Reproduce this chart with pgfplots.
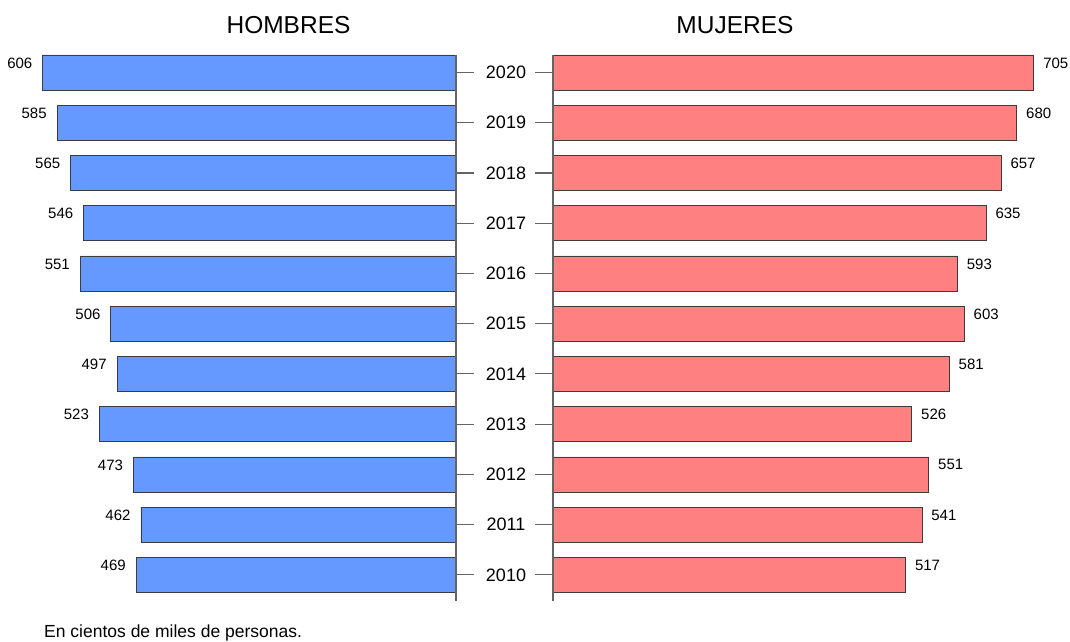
\documentclass[border=0pt]{standalone}
\usepackage{pgfplots}
\pgfplotsset{compat=1.18}
\usepackage{fontspec}
\setmainfont{Liberation Sans}
\definecolor{menblue}{RGB}{102,153,255}
\definecolor{womenred}{RGB}{255,128,128}
\definecolor{edgegray}{RGB}{60,60,60}
\definecolor{axisgray}{RGB}{100,100,100}
\begin{document}
\begin{tikzpicture}
\useasboundingbox (0,0) rectangle (1070pt,641pt);
% HOMBRES  (y = year - 2010)
\begin{axis}[
  at={(0pt,40pt)}, anchor=south west,
  scale only axis, width=456pt, height=546pt,
  xbar, bar width=35pt,
  x dir=reverse,
  xmin=0, xmax=668.6,
  ymin=-0.52, ymax=10.348,
  hide axis, clip=false,
  /pgf/number format/assume math mode=true,
  nodes near coords,
  every node near coord/.append style={anchor=east, inner sep=0pt, xshift=-10pt, yshift=9.5pt, font=\fontsize{15}{15}\selectfont, text=black},
]
\addplot[fill=menblue, draw=edgegray, line width=0.8pt] coordinates {
(606,10) (585,9) (565,8) (546,7) (551,6) (506,5)
(497,4) (523,3) (473,2) (462,1) (469,0)};
\draw[axisgray, line width=1.1pt] (axis cs:0,-0.52) -- (axis cs:0,10.348);
\pgfplotsinvokeforeach{0,...,10}{
  \draw[axisgray, line width=1.1pt] (axis cs:0,#1) -- ++(18pt,0pt);
}
\end{axis}
% MUJERES
\begin{axis}[
  at={(553pt,40pt)}, anchor=south west,
  scale only axis, width=517pt, height=546pt,
  xbar, bar width=35pt,
  xmin=0, xmax=758,
  ymin=-0.52, ymax=10.348,
  hide axis, clip=false,
  /pgf/number format/assume math mode=true,
  nodes near coords,
  every node near coord/.append style={anchor=west, inner sep=0pt, xshift=9pt, yshift=9.5pt, font=\fontsize{15}{15}\selectfont, text=black},
]
\addplot[fill=womenred, draw=edgegray, line width=0.8pt] coordinates {
(705,10) (680,9) (657,8) (635,7) (593,6) (603,5)
(581,4) (526,3) (551,2) (541,1) (517,0)};
\draw[axisgray, line width=1.1pt] (axis cs:0,-0.52) -- (axis cs:0,10.348);
\pgfplotsinvokeforeach{0,...,10}{
  \draw[axisgray, line width=1.1pt] (axis cs:0,#1) -- ++(-18pt,0pt);
}
\end{axis}
\foreach \i in {0,...,10}{
  \pgfmathtruncatemacro{\yr}{2010+\i}
  \node[font=\fontsize{18}{18}\selectfont, inner sep=0pt] at (506pt,{641pt-575pt+\i*50.25pt}) {\yr};
}
\node[font=\fontsize{24.5}{24.5}\selectfont, inner sep=0pt] at (288.5pt,616pt) {HOMBRES};
\node[font=\fontsize{24.5}{24.5}\selectfont, inner sep=0pt] at (735pt,616pt) {MUJERES};
\node[font=\fontsize{17.5}{17.5}\selectfont, inner sep=0pt, anchor=base west] at (44pt,3.2pt) {En cientos de miles de personas.};
\end{tikzpicture}
\end{document}
